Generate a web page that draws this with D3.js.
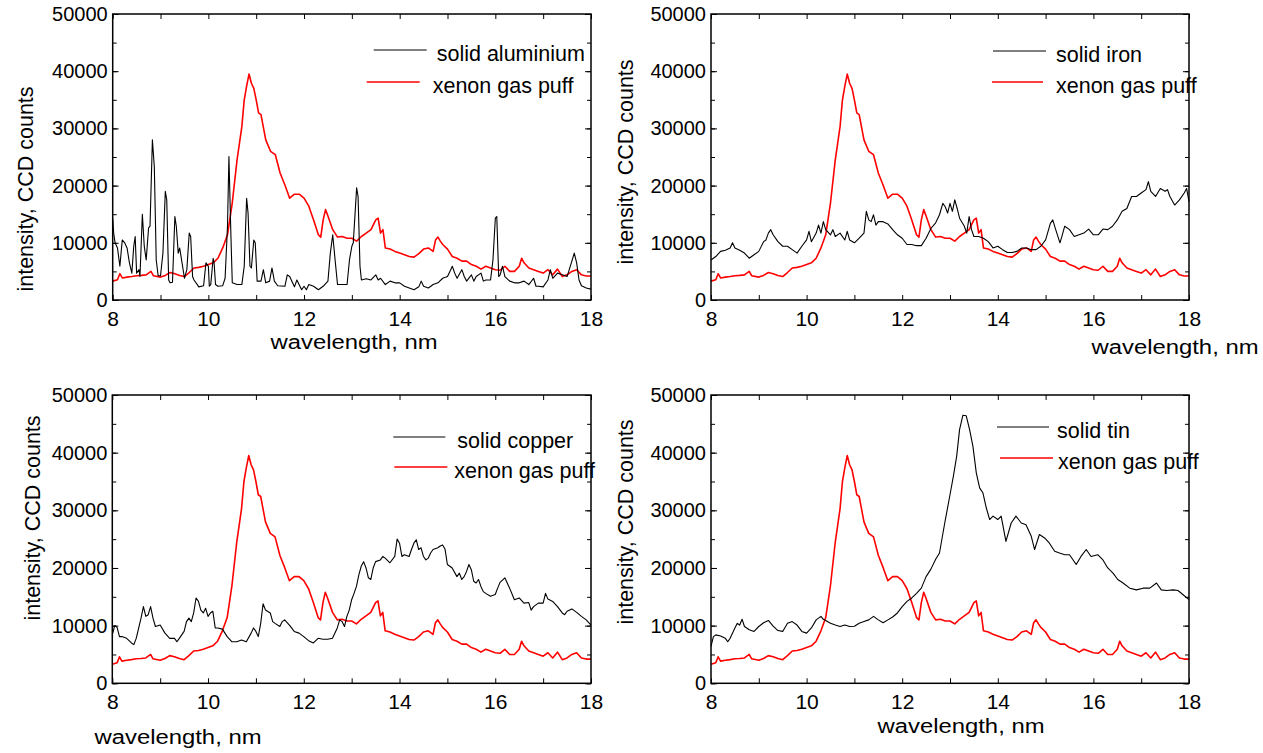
<!DOCTYPE html>
<html>
<head>
<meta charset="utf-8">
<script src="https://cdn.jsdelivr.net/npm/d3@7"></script>
<style>
  body { margin: 0; background: #fff; }
  svg { font-family: "Liberation Sans", Arial, sans-serif; }
</style>
</head>
<body>
<div id="chart"></div>
<script>
// wavelength (nm), CCD counts
const xenon = [[8.0,3300],[8.1,3550],[8.15,4600],[8.2,3850],[8.3,4000],[8.4,4100],[8.5,4250],[8.6,4300],[8.7,4400],[8.8,5000],[8.85,4250],[9.0,4000],[9.1,4300],[9.2,4800],[9.3,4600],[9.4,4300],[9.5,4100],[9.6,4800],[9.7,5600],[9.8,5700],[9.9,5900],[10.0,6200],[10.1,6500],[10.2,7300],[10.3,9100],[10.4,11400],[10.5,17000],[10.6,24500],[10.7,30300],[10.75,35000],[10.8,37400],[10.85,39500],[10.9,37900],[10.95,37000],[11.0,35000],[11.05,32700],[11.1,32400],[11.2,28000],[11.3,26000],[11.4,25400],[11.5,22200],[11.6,20100],[11.7,17800],[11.8,18500],[11.9,18500],[12.0,17800],[12.1,16400],[12.2,14000],[12.3,11400],[12.35,11000],[12.4,14000],[12.45,15800],[12.5,14700],[12.6,12300],[12.7,11000],[12.8,11100],[12.9,10800],[13.0,10800],[13.1,10300],[13.2,11100],[13.3,11700],[13.4,12300],[13.5,14000],[13.55,14300],[13.6,11700],[13.65,12300],[13.7,9100],[13.8,8900],[13.9,8500],[14.0,8200],[14.1,7900],[14.2,7600],[14.3,7500],[14.4,8100],[14.5,8900],[14.6,9100],[14.7,8500],[14.75,10500],[14.8,11000],[14.85,10300],[14.9,9700],[15.0,8900],[15.1,7600],[15.2,7300],[15.3,6800],[15.4,6800],[15.5,6200],[15.6,5900],[15.7,5400],[15.8,5900],[15.9,5600],[16.0,5300],[16.1,5200],[16.2,5900],[16.3,5000],[16.4,5000],[16.5,5900],[16.55,7300],[16.6,6500],[16.7,5600],[16.8,5300],[16.9,5000],[17.0,4700],[17.1,5300],[17.2,4400],[17.3,5400],[17.4,4100],[17.5,4400],[17.6,5000],[17.7,5300],[17.8,4400],[17.9,4200],[18.0,4200]];

const aluminium = [[8.0,14300],[8.02,11700],[8.05,10000],[8.1,9100],[8.15,5900],[8.2,10500],[8.25,10000],[8.3,9100],[8.35,6500],[8.4,4700],[8.44,9400],[8.47,11100],[8.5,4700],[8.55,5300],[8.57,4100],[8.62,15000],[8.66,9400],[8.7,7000],[8.75,12600],[8.78,12900],[8.83,28000],[8.87,23300],[8.91,7000],[8.95,4250],[9.0,4250],[9.05,8200],[9.1,19000],[9.13,17500],[9.17,3500],[9.2,3000],[9.25,3100],[9.3,14600],[9.33,12900],[9.37,8200],[9.4,9100],[9.45,6500],[9.5,3800],[9.55,5300],[9.6,11700],[9.63,11100],[9.67,4100],[9.7,3500],[9.8,2300],[9.9,2500],[9.95,6500],[10.0,5900],[10.02,2400],[10.05,2700],[10.1,7300],[10.12,6500],[10.15,2700],[10.2,2400],[10.3,2500],[10.35,3800],[10.4,12900],[10.43,25100],[10.47,11700],[10.5,3000],[10.6,2700],[10.7,2700],[10.75,5900],[10.8,17800],[10.83,15200],[10.87,5900],[10.9,5600],[10.95,10500],[10.98,10000],[11.02,3300],[11.1,3300],[11.15,5300],[11.2,3000],[11.28,3300],[11.33,5600],[11.38,3300],[11.45,2500],[11.6,2400],[11.65,4400],[11.7,4100],[11.8,2300],[11.85,3500],[11.95,1800],[12.0,2400],[12.05,1800],[12.1,2700],[12.2,2400],[12.3,1800],[12.4,2400],[12.5,3300],[12.55,8200],[12.6,11400],[12.65,7000],[12.7,2700],[12.8,2700],[12.9,2700],[12.95,7000],[13.0,9400],[13.03,10000],[13.1,19600],[13.13,18100],[13.17,5900],[13.2,3500],[13.3,3700],[13.4,3500],[13.5,4400],[13.55,3500],[13.6,3800],[13.7,2700],[13.8,3300],[13.9,3000],[14.0,3000],[14.1,2400],[14.2,2100],[14.3,1800],[14.4,2300],[14.45,3300],[14.5,2400],[14.6,2100],[14.7,2700],[14.8,3000],[14.9,3800],[15.0,4100],[15.05,5000],[15.1,5900],[15.15,4700],[15.2,3800],[15.3,5300],[15.35,4100],[15.4,3300],[15.5,4400],[15.55,3300],[15.6,4100],[15.7,4700],[15.75,3300],[15.8,3500],[15.9,3500],[15.95,7000],[16.0,14300],[16.03,14600],[16.07,4100],[16.1,4400],[16.15,5900],[16.2,4100],[16.3,3300],[16.4,3000],[16.5,3000],[16.6,3300],[16.7,2700],[16.8,3800],[16.85,2400],[16.9,2400],[17.0,2300],[17.1,3500],[17.15,5300],[17.2,3800],[17.3,4700],[17.4,4400],[17.5,4100],[17.6,6800],[17.65,8200],[17.7,6500],[17.75,3500],[17.8,2500],[17.9,2100],[18.0,1900]];

const iron = [[8.0,7000],[8.1,7600],[8.2,8500],[8.3,8700],[8.4,9100],[8.45,10000],[8.5,9100],[8.6,8700],[8.7,8200],[8.8,7300],[8.9,7900],[9.0,8500],[9.1,10200],[9.15,10500],[9.2,11700],[9.25,12300],[9.3,11400],[9.4,10200],[9.5,9400],[9.6,9400],[9.7,8800],[9.8,8200],[9.9,9400],[10.0,10500],[10.05,12000],[10.1,10200],[10.2,11700],[10.25,13100],[10.3,11700],[10.35,13700],[10.4,12300],[10.5,11400],[10.55,12300],[10.6,11100],[10.7,11700],[10.8,10500],[10.85,12000],[10.9,10500],[11.0,10000],[11.1,10800],[11.2,11700],[11.25,15500],[11.3,14000],[11.35,13700],[11.4,14900],[11.45,13100],[11.5,13700],[11.6,13700],[11.7,13300],[11.8,12300],[11.9,11400],[12.0,10800],[12.1,9700],[12.2,9700],[12.3,9500],[12.4,9500],[12.5,10800],[12.6,12500],[12.7,13500],[12.78,14900],[12.85,16900],[12.9,16300],[12.95,15200],[13.0,16900],[13.05,15500],[13.1,17500],[13.15,16000],[13.2,14300],[13.3,12900],[13.35,11700],[13.4,14600],[13.45,12300],[13.5,11100],[13.6,11100],[13.7,10800],[13.8,10200],[13.9,9100],[14.0,9400],[14.1,8800],[14.2,8300],[14.3,8300],[14.4,8500],[14.5,9100],[14.6,9100],[14.7,8800],[14.8,8800],[14.9,9400],[15.0,10500],[15.1,13400],[15.15,14000],[15.2,12600],[15.3,10000],[15.35,11400],[15.4,12900],[15.5,12300],[15.6,11100],[15.7,11400],[15.8,11700],[15.9,12400],[16.0,11400],[16.1,11400],[16.2,12400],[16.3,12300],[16.4,12900],[16.5,14000],[16.6,15500],[16.7,16000],[16.8,18100],[16.9,18100],[17.0,18700],[17.1,19300],[17.15,20700],[17.2,19000],[17.3,18100],[17.4,19500],[17.5,19000],[17.55,19300],[17.6,18100],[17.7,16600],[17.8,17500],[17.9,18700],[17.95,19500],[18.0,17200]];

const copper = [[8.0,8400],[8.05,10000],[8.1,9700],[8.15,8100],[8.2,8100],[8.3,7800],[8.4,7000],[8.45,6700],[8.5,7800],[8.6,11300],[8.65,13300],[8.7,11600],[8.75,11900],[8.8,13300],[8.85,11300],[8.9,9850],[9.0,10100],[9.1,8700],[9.2,7800],[9.3,7800],[9.35,7200],[9.4,7800],[9.5,9000],[9.55,10700],[9.6,11300],[9.65,10700],[9.7,12200],[9.75,14800],[9.8,14200],[9.85,12700],[9.9,12200],[9.95,13000],[10.0,11600],[10.05,12200],[10.1,12500],[10.15,9600],[10.2,9600],[10.3,9400],[10.4,8100],[10.5,7200],[10.6,7200],[10.7,7500],[10.8,7200],[10.9,8700],[10.95,9600],[11.0,9000],[11.05,8100],[11.1,10400],[11.15,13800],[11.2,12700],[11.3,12200],[11.35,10700],[11.4,10400],[11.5,9850],[11.55,10700],[11.6,11000],[11.7,10100],[11.8,9000],[11.9,8700],[12.0,8100],[12.1,7400],[12.2,7000],[12.3,7800],[12.4,7650],[12.5,7650],[12.6,7800],[12.7,9600],[12.75,11000],[12.8,10700],[12.85,9850],[12.9,11600],[12.95,12700],[13.0,14500],[13.05,15600],[13.1,16800],[13.15,18800],[13.2,20300],[13.25,21100],[13.3,20000],[13.35,18300],[13.4,18000],[13.45,20000],[13.5,21100],[13.6,21400],[13.65,22000],[13.7,21700],[13.8,20900],[13.9,22000],[13.95,25000],[14.0,24300],[14.05,22000],[14.1,22300],[14.2,22000],[14.25,23200],[14.3,24300],[14.35,24900],[14.4,23200],[14.45,23500],[14.5,22000],[14.55,21400],[14.6,21700],[14.65,22600],[14.7,23200],[14.8,23500],[14.85,23800],[14.9,24000],[14.95,23300],[15.0,20600],[15.1,20000],[15.2,18500],[15.25,19100],[15.3,18000],[15.35,18500],[15.4,19400],[15.45,20600],[15.5,19700],[15.55,17700],[15.6,17400],[15.65,18000],[15.7,16800],[15.75,15900],[15.8,15600],[15.9,15100],[16.0,15400],[16.05,16500],[16.1,17500],[16.2,18300],[16.25,17400],[16.3,16500],[16.4,14500],[16.5,14800],[16.6,13900],[16.7,14000],[16.75,12700],[16.8,13300],[16.9,13900],[17.0,13900],[17.05,15600],[17.1,14600],[17.2,14200],[17.3,13300],[17.4,12200],[17.45,11900],[17.5,12500],[17.6,12900],[17.7,12300],[17.8,11600],[17.9,11000],[18.0,10100]];

const tin = [[8.0,6400],[8.05,8100],[8.1,8400],[8.2,8200],[8.3,7800],[8.35,7200],[8.4,7800],[8.5,9600],[8.55,10400],[8.6,10100],[8.65,11100],[8.7,9850],[8.8,9300],[8.9,9000],[9.0,9850],[9.1,10500],[9.2,10900],[9.3,9900],[9.4,9150],[9.5,9000],[9.6,10400],[9.7,10700],[9.8,10100],[9.9,9000],[10.0,8700],[10.1,9600],[10.2,11000],[10.3,11600],[10.35,11100],[10.4,10900],[10.5,10400],[10.6,10100],[10.7,9850],[10.8,10100],[10.9,9850],[11.0,9900],[11.1,10400],[11.2,10700],[11.3,11000],[11.4,11600],[11.5,11000],[11.6,10500],[11.7,11000],[11.8,11500],[11.9,12200],[12.0,13300],[12.1,14200],[12.2,14800],[12.3,15600],[12.4,16500],[12.5,18500],[12.6,19800],[12.7,21500],[12.78,22600],[12.89,27800],[13.0,32700],[13.07,35900],[13.14,39400],[13.2,44000],[13.27,46500],[13.34,46400],[13.41,44000],[13.48,41100],[13.55,36500],[13.62,33900],[13.69,33000],[13.76,30400],[13.83,28400],[13.9,29000],[14.0,28400],[14.07,29000],[14.17,24600],[14.28,27800],[14.38,29000],[14.49,27800],[14.59,27500],[14.7,25500],[14.77,23200],[14.87,25800],[14.98,25200],[15.08,24300],[15.19,22900],[15.29,22600],[15.4,22300],[15.5,22300],[15.64,20600],[15.74,22000],[15.85,23200],[15.95,22000],[16.09,22300],[16.2,21400],[16.3,20000],[16.41,19100],[16.51,18000],[16.62,17400],[16.76,16500],[16.9,16200],[17.04,16500],[17.18,16500],[17.32,17400],[17.42,16200],[17.53,16100],[17.67,16200],[17.77,16100],[17.87,15400],[18.0,14500]];

const xTicks = [8, 10, 12, 14, 16, 18];
const yTicks = [0, 10000, 20000, 30000, 40000, 50000];
const xLabel = 'wavelength, nm';
const yLabel = 'intensity, CCD counts';
const gasLabel = 'xenon gas puff';

// panel layout (pixels), legend and axis titles placed like the original
const panels = [
  { solid: aluminium, name: 'solid aluminium', left: 112.7, top: 14, w: 478.3, h: 286,
    leg: [[261, 314, 36, 324], [254, 307, 68, 320]], xl: [354, 349], yl: [25, 189] },
  { solid: iron, name: 'solid iron', left: 711, top: 14, w: 478, h: 286,
    leg: [[282, 335, 37, 345], [281, 332, 68, 345]], xl: [1175, 354], yl: [625, 162] },
  { solid: copper, name: 'solid copper', left: 112.3, top: 395, w: 478.7, h: 288.3,
    leg: [[281, 333, 42, 345], [282, 335, 72, 342]], xl: [178, 744], yl: [32, 518] },
  { solid: tin, name: 'solid tin', left: 711, top: 395, w: 478, h: 288.3,
    leg: [[286, 338, 32, 346], [289, 342, 63, 347]], xl: [961, 733], yl: [625, 522] }
];

const svg = d3.select('#chart').append('svg')
  .attr('width', 1263)
  .attr('height', 753);

panels.forEach(p => {
  const g = svg.append('g').attr('transform', `translate(${p.left},${p.top})`);

  const x = d3.scaleLinear().domain([8, 18]).range([0, p.w]);
  const y = d3.scaleLinear().domain([0, 50000]).range([p.h, 0]);

  const minorX = d3.range(8, 18.5, 1);
  const minorY = d3.range(0, 50001, 5000);

  // inward ticks on all four sides
  const addAxis = (axis, tr) => {
    const a = g.append('g').attr('transform', tr).call(axis);
    a.select('.domain').remove();
    a.selectAll('line').attr('stroke', '#000').attr('stroke-width', 1);
    return a;
  };
  addAxis(d3.axisBottom(x).tickValues(minorX).tickSize(-5).tickFormat(''), `translate(0,${p.h})`);
  addAxis(d3.axisTop(x).tickValues(minorX).tickSize(-5).tickFormat(''), 'translate(0,0)');
  addAxis(d3.axisLeft(y).tickValues(minorY).tickSize(-4).tickFormat(''), 'translate(0,0)');
  addAxis(d3.axisRight(y).tickValues(minorY).tickSize(-4).tickFormat(''), `translate(${p.w},0)`);
  addAxis(d3.axisLeft(y).tickValues(yTicks).tickSize(-6).tickFormat(''), 'translate(0,0)');
  addAxis(d3.axisRight(y).tickValues(yTicks).tickSize(-6).tickFormat(''), `translate(${p.w},0)`);

  const xa = g.append('g').attr('transform', `translate(0,${p.h})`)
    .call(d3.axisBottom(x).tickValues(xTicks).tickSize(0).tickPadding(11).tickFormat(d3.format('d')));
  xa.select('.domain').remove();
  xa.selectAll('text').attr('font-size', 21).attr('fill', '#000')
    .attr('font-family', '"Liberation Sans", Arial, sans-serif');

  const ya = g.append('g')
    .call(d3.axisLeft(y).tickValues(yTicks).tickSize(0).tickPadding(5).tickFormat(d3.format('d')));
  ya.select('.domain').remove();
  ya.selectAll('text').attr('font-size', 20).attr('fill', '#000')
    .attr('font-family', '"Liberation Sans", Arial, sans-serif');

  const line = d3.line().x(d => x(d[0])).y(d => y(d[1]));

  g.append('path').datum(xenon)
    .attr('fill', 'none').attr('stroke', '#ff0000').attr('stroke-width', 1.6)
    .attr('stroke-linejoin', 'round').attr('d', line);
  g.append('path').datum(p.solid)
    .attr('fill', 'none').attr('stroke', '#000').attr('stroke-width', 1.1)
    .attr('stroke-linejoin', 'round').attr('d', line);

  // frame
  g.append('rect').attr('width', p.w).attr('height', p.h)
    .attr('fill', 'none').attr('stroke', '#000').attr('stroke-width', 1.5);

  // legend
  const items = [[p.name, '#000', 1.1], [gasLabel, '#ff0000', 1.6]];
  items.forEach((it, i) => {
    const l = p.leg[i];
    g.append('line').attr('x1', l[0]).attr('x2', l[1]).attr('y1', l[2]).attr('y2', l[2])
      .attr('stroke', it[1]).attr('stroke-width', it[2]);
    g.append('text').attr('x', l[3]).attr('y', l[2] + 10.5)
      .attr('font-size', 21.5).text(it[0]);
  });

  svg.append('text').attr('x', p.xl[0]).attr('y', p.xl[1])
    .attr('text-anchor', 'middle').attr('font-size', 20)
    .attr('textLength', 167).attr('lengthAdjust', 'spacingAndGlyphs')
    .text(xLabel);
  svg.append('text')
    .attr('transform', `translate(${p.yl[0]},${p.yl[1]}) rotate(-90)`)
    .attr('text-anchor', 'middle').attr('dy', '0.35em')
    .attr('font-size', 21.5).text(yLabel);
});
</script>
</body>
</html>
